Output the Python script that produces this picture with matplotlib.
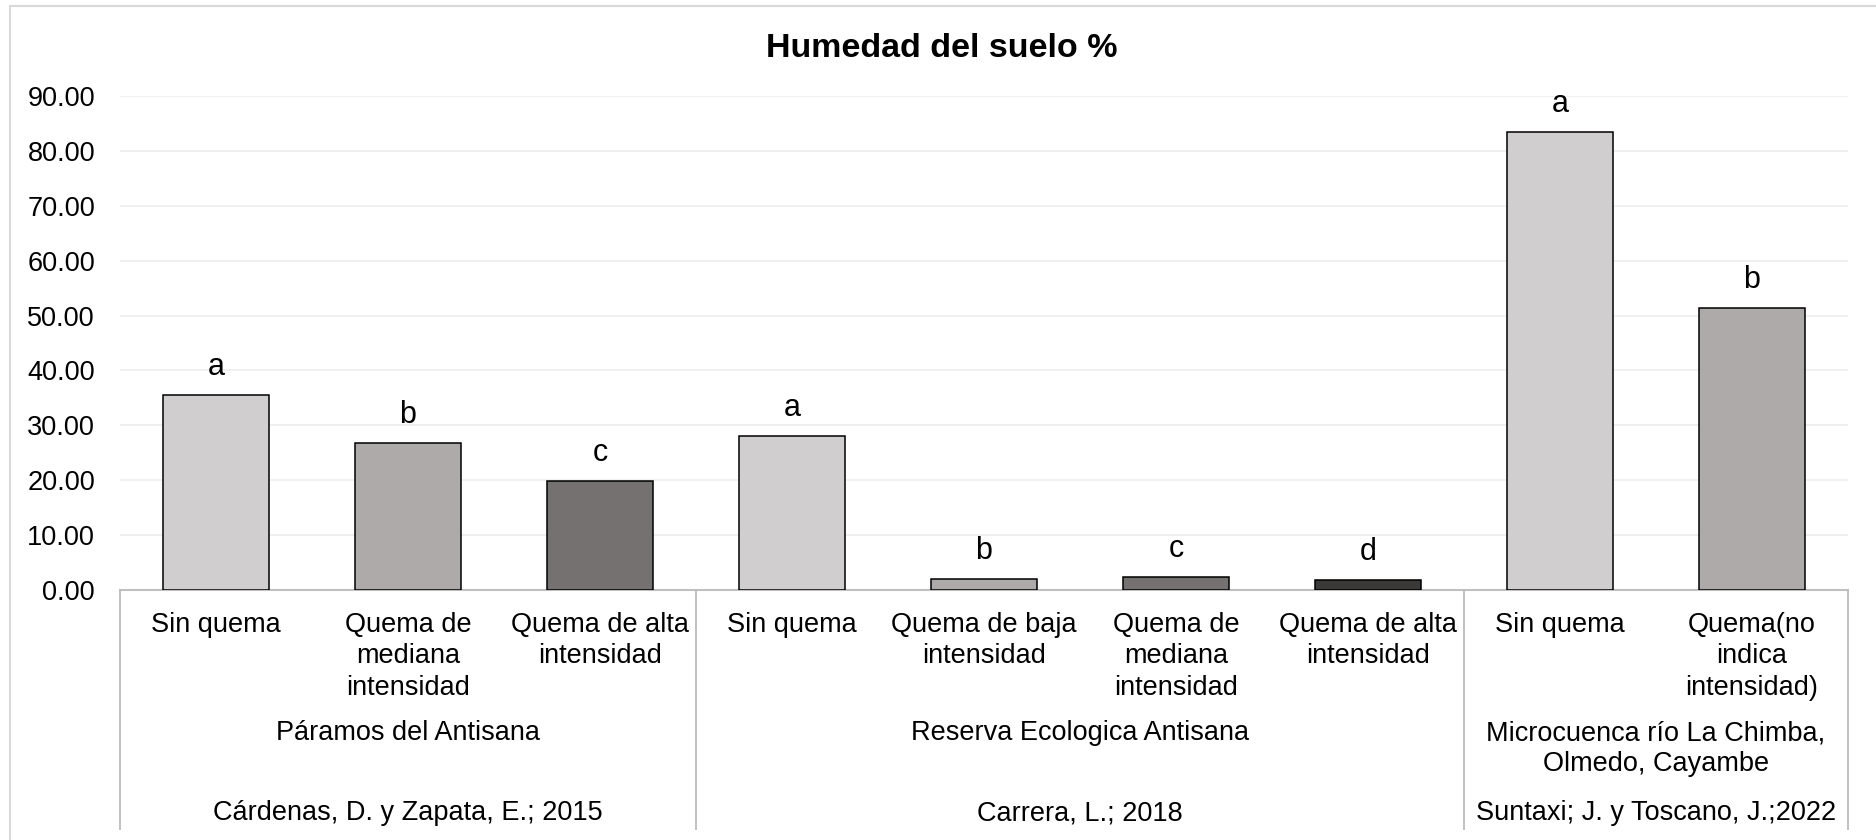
import matplotlib
matplotlib.use("Agg")
import matplotlib.pyplot as plt
from matplotlib.lines import Line2D
from matplotlib import transforms

# data
tratamientos = ["Sin quema", "Quema de\nmediana\nintensidad", "Quema de alta\nintensidad",
                "Sin quema", "Quema de baja\nintensidad", "Quema de\nmediana\nintensidad",
                "Quema de alta\nintensidad",
                "Sin quema", "Quema(no\nindica\nintensidad)"]
humedad = [35.6, 26.7, 19.85, 28.05, 2.0, 2.3, 1.8, 83.4, 51.3]
letras = ["a", "b", "c", "a", "b", "c", "d", "a", "b"]
colores = ["#D0CECE", "#AEAAAA", "#767171", "#D0CECE", "#AEAAAA", "#767171", "#3B3838",
           "#D0CECE", "#AEAAAA"]

sitios = ["Páramos del Antisana", "Reserva Ecologica Antisana",
          "Microcuenca río La Chimba,\nOlmedo, Cayambe"]
autores = ["Cárdenas, D. y Zapata, E.; 2015", "Carrera, L.; 2018",
           "Suntaxi; J. y Toscano, J.;2022"]
n_por_grupo = [3, 4, 2]

plt.rcParams['font.family'] = ['Liberation Sans', 'DejaVu Sans']

W, H = 1876, 840
fig = plt.figure(figsize=(W / 100, H / 100), dpi=100)
ax = fig.add_axes([120 / W, 1 - 590 / H, (1848 - 120) / W, (590 - 96) / H])

x = list(range(len(humedad)))
ax.bar(x, humedad, width=0.556, color=colores, edgecolor="black", linewidth=1.1, zorder=3)

for xi, v, l in zip(x, humedad, letras):
    ax.annotate(l, (xi, v), xytext=(0, 14.4), textcoords="offset points",
                ha="center", va="baseline", fontsize=22, color="black",
                annotation_clip=False)

ax.set_xlim(-0.5, len(humedad) - 0.5)
ax.set_ylim(0, 90)
ax.set_yticks(range(0, 91, 10))
ax.set_yticklabels(["{:.2f}".format(t) for t in range(0, 91, 10)])
ax.tick_params(axis="y", length=0, pad=18, labelsize=19.5, labelcolor="black")
ax.set_xticks([])
ax.yaxis.grid(True, color="#EFEFEF", linewidth=1.3, zorder=0)
ax.set_axisbelow(True)
for s in ["left", "right", "top"]:
    ax.spines[s].set_visible(False)
ax.spines["bottom"].set_color("#BFBFBF")
ax.spines["bottom"].set_linewidth(1.5)

# multi-level category axis
trans = transforms.blended_transform_factory(ax.transData, ax.transAxes)
px = 1.0 / (590 - 96)  # one pixel in axes fraction
for xi, t in zip(x, tratamientos):
    ax.text(xi, -22 * px, t, transform=trans, ha="center", va="top",
            fontsize=19.5, linespacing=1.27)

start = 0
bordes = [-0.5]
for sitio, autor, n in zip(sitios, autores, n_por_grupo):
    centro = start + (n - 1) / 2
    ax.text(centro, -130 * px, sitio, transform=trans, ha="center", va="top",
            fontsize=19.5, linespacing=1.27)
    ax.text(centro, -210 * px, autor, transform=trans, ha="center", va="top",
            fontsize=19.5)
    start += n
    bordes.append(start - 0.5)

for b in bordes:
    ax.add_line(Line2D([b, b], [0, -239 * px], transform=trans, color="#BFBFBF",
                       linewidth=1.4, clip_on=False))

# title
fig.text(942 / W, 1 - 57 / H, "Humedad del suelo %", ha="center", va="baseline",
         fontsize=24.5, fontweight="bold")

# chart area border (left and top edges visible)
fig.add_artist(Line2D([10 / W, 10 / W], [0, 1 - 6 / H], transform=fig.transFigure,
                      color="#D9D9D9", linewidth=1.5))
fig.add_artist(Line2D([10 / W, 1], [1 - 6 / H, 1 - 6 / H], transform=fig.transFigure,
                      color="#D9D9D9", linewidth=1.5))

fig.savefig("out.png", dpi=100, facecolor="white")
